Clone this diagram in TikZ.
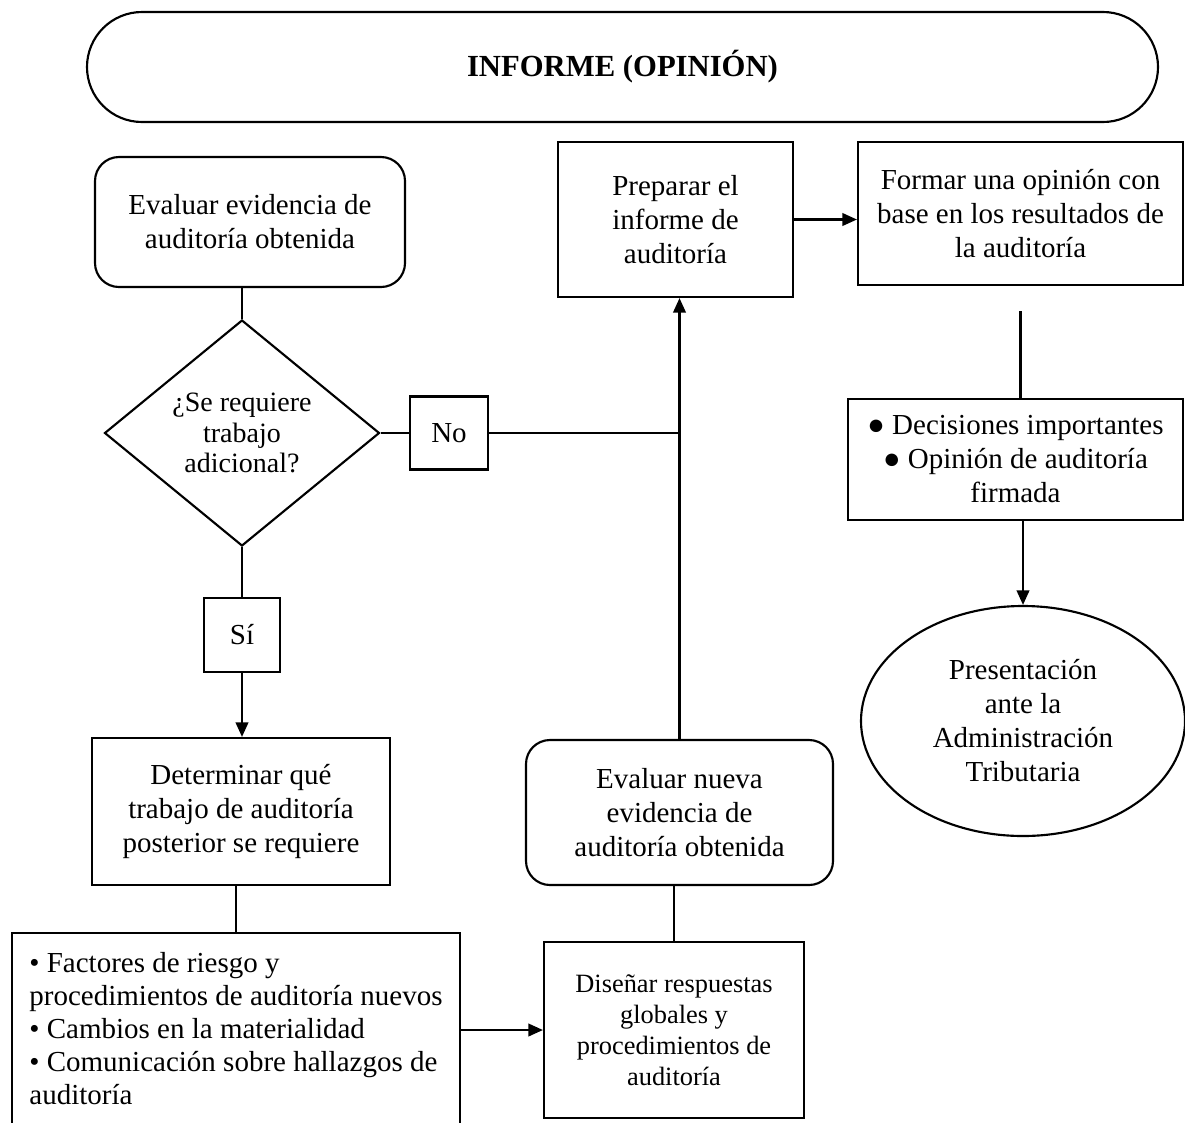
\documentclass[tikz,border=0pt]{standalone}
\usepackage{fontspec}
\setmainfont{Liberation Serif}
\usetikzlibrary{shapes.geometric,arrows.meta}

\begin{document}
\begin{tikzpicture}[x=0.75pt,y=0.75pt,yscale=-1,xscale=1,line width=1.6pt,
  every node/.style={font=\fontsize{21.75}{25.5}\selectfont},
  caja/.style={draw,align=center,inner sep=0pt},
  cajaredonda/.style={caja,rounded corners=18pt},
  flecha/.style={-{Triangle[length=11pt,width=9.5pt]}}]
\useasboundingbox (0,0) rectangle (1185,1122);
\clip (0,0) rectangle (1185,1122);

% Rounded Rect
\draw (622.5,67) node [caja,rounded corners=41.25pt,minimum width=803.25pt,minimum height=82.5pt,font=\fontsize{23}{27}\selectfont\bfseries] (informe) {INFORME (OPINIÓN)};

% Text Node
\draw (250,222) node [cajaredonda,minimum width=232.5pt,minimum height=97.5pt] (evaluar) {Evaluar evidencia de\\auditoría obtenida};
% Text Node
\draw (242,433) node [caja,shape=diamond,aspect=1.217,minimum width=206.25pt,minimum height=169.5pt,font=\fontsize{21}{23}\selectfont] (pregunta) {¿Se requiere\\trabajo\\adicional?};
% Text Node
\draw (449,433) node [caja,minimum width=58.5pt,minimum height=54.75pt] (no) {No};
% Text Node
\draw (242,635) node [caja,minimum width=57pt,minimum height=55.5pt] (si) {Sí};
% Text Node
\draw (241,811.5) node [caja,minimum width=223.5pt,minimum height=110.25pt] (determinar) {Determinar qué\\trabajo de auditoría\\posterior se requiere};
% Text Node
\draw (236,1029) node [caja,align=left,minimum width=336pt,minimum height=144pt,font=\fontsize{21.75}{24.75}\selectfont] (factores) {• Factores de riesgo y\\procedimientos de auditoría nuevos\\• Cambios en la materialidad\\• Comunicación sobre hallazgos de\\auditoría};
% Text Node
\draw (674,1030) node [caja,minimum width=195pt,minimum height=132pt,font=\fontsize{19.8}{23.25}\selectfont] (disenar) {Diseñar respuestas\\globales y\\procedimientos de\\auditoría};
% Text Node
\draw (679.5,812.5) node [cajaredonda,minimum width=230.25pt,minimum height=108.75pt] (nueva) {Evaluar nueva\\evidencia de\\auditoría obtenida};
% Text Node
\draw (675.5,219.5) node [caja,minimum width=176.25pt,minimum height=116.25pt] (preparar) {Preparar el\\informe de\\auditoría};
% Text Node
\draw (1020.5,213.5) node [caja,minimum width=243.75pt,minimum height=107.25pt] (formar) {Formar una opinión con\\base en los resultados de\\la auditoría};
% Text Node
\draw (1015.5,459.5) node [caja,minimum width=251.25pt,minimum height=90.75pt] (decisiones) {● Decisiones importantes\\● Opinión de auditoría\\firmada};
% Text Node
\draw (1023,721) node [caja,shape=ellipse,minimum width=243pt,minimum height=172.5pt] (presentacion) {Presentación\\ante la\\Administración\\Tributaria};

%Straight Lines
\draw (pregunta.north) -- (pregunta.north |- evaluar.south);
\draw (pregunta.east) -- (no.west);
\draw (no.east) -- (no.east -| nueva.north);
\draw (pregunta.south) -- (si.north);
\draw [flecha] (si.south) -- (si.south |- determinar.north);
\draw (factores.north) -- (factores.north |- determinar.south);
\draw [flecha] (disenar.west -| factores.east) -- (disenar.west);
\draw (disenar.north) -- (disenar.north |- nueva.south);
\draw [flecha] (nueva.north) -- (nueva.north |- preparar.south);
\draw [flecha] (preparar.east) -- (preparar.east -| formar.west);
\draw [shorten <=18.75pt] (formar.south) -- (formar.south |- decisiones.north);
\draw [flecha] (presentacion.north |- decisiones.south) -- (presentacion.north);

\end{tikzpicture}
\end{document}
